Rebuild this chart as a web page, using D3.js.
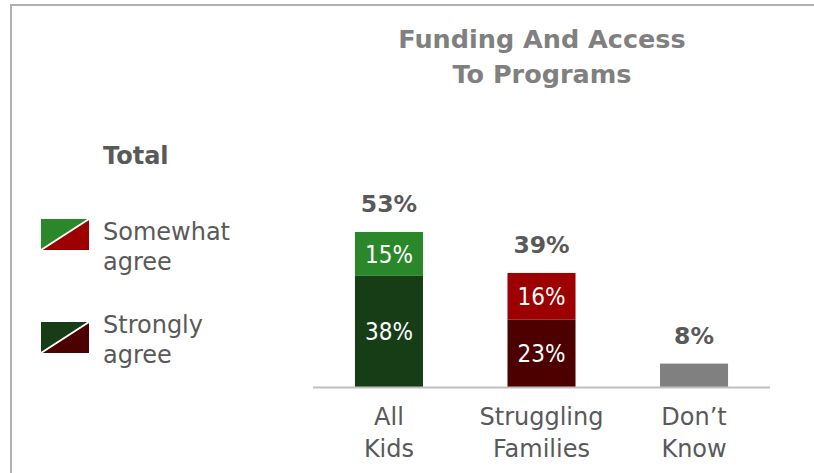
<!DOCTYPE html>
<html>
<head>
<meta charset="utf-8">
<script src="https://cdn.jsdelivr.net/npm/d3@7"></script>
<style>
  body { margin: 0; background: #fff; }
  text { font-family: "DejaVu Sans", sans-serif; }
</style>
</head>
<body>
<script>
// chart data
var categories = ["All Kids", "Struggling Families", "Don\u2019t Know"];
var catLines = [["All", "Kids"], ["Struggling", "Families"], ["Don\u2019t", "Know"]];
var strongly = [38, 23, 8];
var somewhat = [15, 16, 0];
var totals = [53, 39, 8];
var legendLabels = [["Somewhat", "agree"], ["Strongly", "agree"]];

var w = 814, h = 473;
var baseY = 387;

var svg = d3.select("body").append("svg")
    .attr("width", w)
    .attr("height", h);

// frame
svg.append("path")
    .attr("d", "M11,473 L11,5 L814,5")
    .attr("fill", "none")
    .attr("stroke", "#b0b0b0")
    .attr("stroke-width", 2);

// title
var title = svg.append("text")
    .attr("text-anchor", "middle")
    .attr("fill", "#808080")
    .style("font-size", "25.5px")
    .style("font-weight", "bold");
title.append("tspan").attr("x", 542).attr("y", 48).text("Funding And Access");
title.append("tspan").attr("x", 542).attr("y", 83).text("To Programs");

// scales
var x = d3.scaleBand()
    .domain(categories)
    .range([313, 770])
    .paddingInner(0.554)
    .paddingOuter(0.275);

var y = d3.scaleLinear()
    .domain([0, 53])
    .range([baseY, 232]);

var colorsLow = ["#173d17", "#4d0000", "#808080"];
var colorsHigh = ["#2a872a", "#9c0000", "#808080"];

var data = categories.map(function(c, i) {
    return { cat: c, low: strongly[i], high: somewhat[i], total: totals[i], i: i };
});

// strongly agree segment
svg.selectAll(".low")
    .data(data)
    .enter()
    .append("rect")
    .attr("class", "low")
    .attr("x", function(d) { return x(d.cat); })
    .attr("width", x.bandwidth())
    .attr("y", function(d) { return y(d.low); })
    .attr("height", function(d) { return baseY - y(d.low); })
    .attr("fill", function(d) { return colorsLow[d.i]; });

// somewhat agree segment
svg.selectAll(".high")
    .data(data.filter(function(d) { return d.high > 0; }))
    .enter()
    .append("rect")
    .attr("class", "high")
    .attr("x", function(d) { return x(d.cat); })
    .attr("width", x.bandwidth())
    .attr("y", function(d) { return y(d.low + d.high); })
    .attr("height", function(d) { return y(d.low) - y(d.low + d.high); })
    .attr("fill", function(d) { return colorsHigh[d.i]; });

// axis line
svg.append("line")
    .attr("x1", 313).attr("x2", 770)
    .attr("y1", baseY + 0.5).attr("y2", baseY + 0.5)
    .attr("stroke", "#bfbfbf")
    .attr("stroke-width", 2);

// segment labels
var segs = [];
data.forEach(function(d) {
    if (d.high > 0) {
        segs.push({ cat: d.cat, v: d.low, mid: d.low / 2 });
        segs.push({ cat: d.cat, v: d.high, mid: d.low + d.high / 2 });
    }
});
svg.selectAll(".seglab")
    .data(segs)
    .enter()
    .append("text")
    .attr("class", "seglab")
    .attr("x", function(d) { return x(d.cat) + x.bandwidth() / 2; })
    .attr("y", function(d) { return y(d.mid); })
    .attr("dy", "0.36em")
    .attr("text-anchor", "middle")
    .attr("fill", "#fff")
    .style("font-family", "'DejaVu Sans Condensed', sans-serif")
    .style("font-size", "24px")
    .text(function(d) { return d.v + "%"; });

// total labels
svg.selectAll(".totlab")
    .data(data)
    .enter()
    .append("text")
    .attr("class", "totlab")
    .attr("x", function(d) { return x(d.cat) + x.bandwidth() / 2; })
    .attr("y", function(d) { return y(d.total) - 20; })
    .attr("text-anchor", "middle")
    .attr("fill", "#595959")
    .style("font-size", "23.5px")
    .style("font-weight", "bold")
    .text(function(d) { return d.total + "%"; });

// category labels
var cl = svg.selectAll(".catlab")
    .data(data)
    .enter()
    .append("text")
    .attr("class", "catlab")
    .attr("text-anchor", "middle")
    .attr("fill", "#595959")
    .style("font-size", "24px");
cl.each(function(d) {
    var t = d3.select(this);
    catLines[d.i].forEach(function(line, k) {
        t.append("tspan")
            .attr("x", x(d.cat) + x.bandwidth() / 2)
            .attr("y", 425 + k * 32)
            .text(line);
    });
});

// legend
svg.append("text")
    .attr("x", 103).attr("y", 164)
    .attr("fill", "#595959")
    .style("font-size", "24px")
    .style("font-weight", "bold")
    .text("Total");

var legTop = [219, 322];
var legBase = [240, 333];
var legA = ["#2a872a", "#173d17"];
var legB = ["#9c0000", "#4d0000"];
legendLabels.forEach(function(lab, i) {
    var g = svg.append("g").attr("transform", "translate(41," + legTop[i] + ")");
    var sw = 48, sh = 31;
    g.append("path").attr("d", "M0,0 L" + sw + ",0 L0," + sh + "Z").attr("fill", legA[i]);
    g.append("path").attr("d", "M" + sw + ",0 L" + sw + "," + sh + " L0," + sh + "Z").attr("fill", legB[i]);
    g.append("line").attr("x1", 0).attr("y1", sh).attr("x2", sw).attr("y2", 0)
        .attr("stroke", "#fff").attr("stroke-width", 2);
    var t = svg.append("text")
        .attr("fill", "#595959")
        .style("font-size", "24px");
    lab.forEach(function(line, k) {
        t.append("tspan")
            .attr("x", 103)
            .attr("y", legBase[i] + k * 30)
            .text(line);
    });
});
</script>
</body>
</html>
